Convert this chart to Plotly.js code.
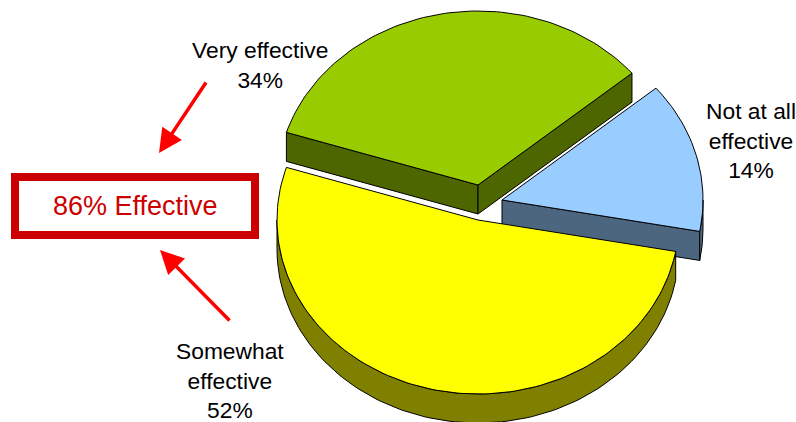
<!DOCTYPE html>
<html><head><meta charset="utf-8">
<script src="https://cdn.plot.ly/plotly-3.0.1.min.js"></script>
<style>html,body{margin:0;padding:0;background:#fff}#c{width:796px;height:422px}</style>
</head><body><div id="c"></div>
<script>
// Data
var categories = ['Very effective', 'Somewhat effective', 'Not at all effective'];
var labelLines = ['Very effective', 'Somewhat<br>effective', 'Not at all<br>effective'];
var shares = [34, 52, 14];
var summaryLabel = '86% Effective';

// Style / layout
var topColors = ['#99CC00', '#FFFF00', '#99CCFF'];
var wallColors = ['#4D6600', '#808000', '#4D6680'];
var apexX = [478, 478, 502];
var apexY = [185, 220, 200];
var labelX = [259.5, 230, 751];
var labelY = [65, 380, 140];
var RX = 201, RY = 174, DEPTH = 29, START = 40;
var FONT = 'Liberation Sans, Arial, sans-serif';

var total = shares.reduce(function (a, b) { return a + b; }, 0);
var bounds = [], acc = START;
shares.forEach(function (s) { var e = acc + s / total * 360; bounds.push([acc, e]); acc = e; });

function rim(i, deg, dz) {
  var r = deg * Math.PI / 180;
  return [apexX[i] + RX * Math.cos(r), apexY[i] - RY * Math.sin(r) + (dz || 0)];
}
function poly(pts, fill, name) {
  return { type: 'scatter', mode: 'lines', name: name, hoverinfo: 'skip', fill: 'toself', fillcolor: fill,
    x: pts.map(function (p) { return p[0]; }), y: pts.map(function (p) { return p[1]; }),
    line: { color: '#000', width: 1 } };
}
function arc(i, a, b, dz) {
  var n = Math.max(2, Math.ceil(Math.abs(b - a) / 1.5)), out = [];
  for (var k = 0; k <= n; k++) out.push(rim(i, a + (b - a) * k / n, dz));
  return out;
}
function topFace(i) {
  return poly([[apexX[i], apexY[i]]].concat(arc(i, bounds[i][0], bounds[i][1])).concat([[apexX[i], apexY[i]]]), topColors[i], categories[i]);
}
function radialWall(i, deg) {
  var p = rim(i, deg);
  return poly([[apexX[i], apexY[i]], p, [p[0], p[1] + DEPTH], [apexX[i], apexY[i] + DEPTH], [apexX[i], apexY[i]]], wallColors[i], categories[i] + ' side');
}
function outerWall(i, a, b) {
  var up = arc(i, a, b), down = arc(i, b, a, DEPTH);
  return poly(up.concat(down).concat([up[0]]), wallColors[i], categories[i] + ' rim');
}

var traces = [
  // Not at all effective: sits behind the other two
  radialWall(2, bounds[2][0]),
  outerWall(2, bounds[2][0], 360),
  topFace(2),
  // Very effective
  radialWall(0, bounds[0][1]),
  radialWall(0, bounds[0][0]),
  topFace(0),
  // Somewhat effective: in front
  outerWall(1, 180, bounds[1][1]),
  topFace(1)
];

var annotations = categories.map(function (c, i) {
  return { x: labelX[i], y: labelY[i], xref: 'x', yref: 'y', showarrow: false, xanchor: 'center', yanchor: 'middle', align: 'center',
    text: labelLines[i] + '<br>' + shares[i] + '%', font: { family: FONT, size: 22.8, color: '#000' } };
});
annotations.push({ x: 135, y: 206, xref: 'x', yref: 'y', showarrow: false, xanchor: 'center', yanchor: 'middle',
  text: summaryLabel, font: { family: FONT, size: 27, color: '#CC0000' } });
[[159, 153, 207, 81], [160, 250, 231, 322]].forEach(function (a) {
  annotations.push({ x: a[0], y: a[1], ax: a[2], ay: a[3], xref: 'x', yref: 'y', axref: 'x', ayref: 'y', text: '', showarrow: true,
    arrowhead: 2, arrowsize: 1.35, arrowwidth: 3.5, arrowcolor: '#FF0000', standoff: 0, startstandoff: 0 });
});

var layout = {
  width: 796, height: 422, margin: { l: 0, r: 0, t: 0, b: 0 }, showlegend: false,
  paper_bgcolor: '#fff', plot_bgcolor: '#fff',
  xaxis: { range: [0, 796], visible: false, fixedrange: true },
  yaxis: { range: [422, 0], visible: false, fixedrange: true },
  shapes: [{ type: 'rect', xref: 'x', yref: 'y', x0: 15, x1: 255, y0: 177, y1: 235, line: { color: '#CC0000', width: 8 }, fillcolor: '#fff' }],
  annotations: annotations
};
Plotly.newPlot('c', traces, layout, { displayModeBar: false, staticPlot: true });
</script></body></html>
